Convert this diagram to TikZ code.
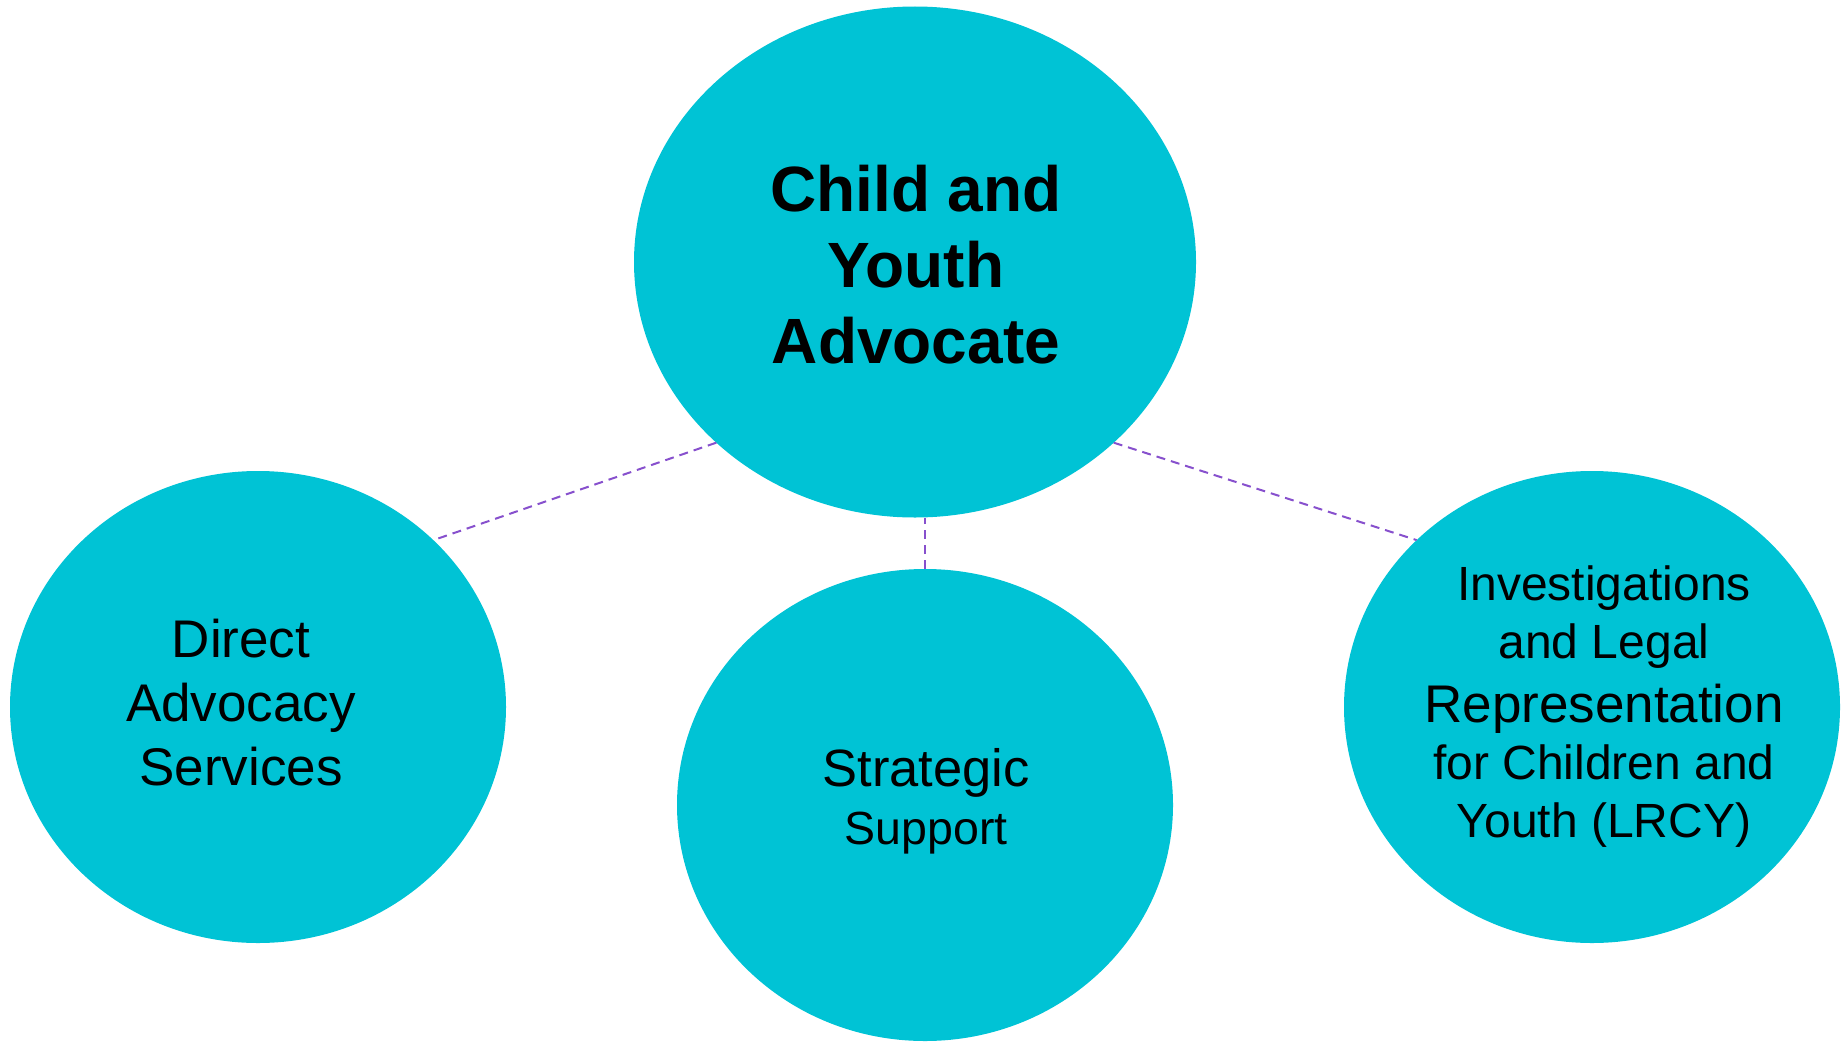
\documentclass[tikz,border=0pt]{standalone}
\usepackage{fontspec}
\setmainfont{Liberation Sans}
\usetikzlibrary{shapes.geometric}
\definecolor{bubble}{RGB}{0,195,213}
\definecolor{linkc}{RGB}{135,80,205}
\newcommand{\fsA}{\fontsize{48}{58}\selectfont}
\newcommand{\fsB}{\fontsize{53}{64}\selectfont}
\begin{document}
\begin{tikzpicture}[x=1pt,y=-1pt,
  bigbub/.style={ellipse,fill=bubble,draw=none,inner sep=0pt,outer sep=0pt,minimum width=562pt,minimum height=511pt},
  bub/.style={ellipse,fill=bubble,draw=none,inner sep=0pt,outer sep=0pt,minimum width=496pt,minimum height=472pt},
  link/.style={draw=linkc,line width=2pt,dash pattern=on 9pt off 6pt},
  ttl/.style={align=center,inner sep=0pt,font=\bfseries\fontsize{64}{76}\selectfont},
  lbl/.style={align=center,inner sep=0pt,font=\fontsize{53}{64}\selectfont},
  lbls/.style={align=center,inner sep=0pt,font=\fontsize{48}{58}\selectfont}]
\useasboundingbox (0,0) rectangle (1841,1041);
\node[bigbub] (top) at (915,262) {};
\node[bub] (left) at (258,707) {};
\node[bub] (mid) at (925,805) {};
\node[bub] (right) at (1592,707) {};
\draw[link] (top.south west) -- (left.north east);
\draw[link] (top.south east) -- (right.north west);
\draw[link] (mid.north) -- (mid.north |- top.south);
\node[ttl] (toptext) at (916,265) {Child and\\Youth\\Advocate};
\node[lbl] (lefttext) at (241,703) {Direct\\Advocacy\\Services};
\node[lbls] (midtext) at (926,801.5) {{\fontsize{52.5}{60}\selectfont Strategic}\\{\fontsize{46.5}{60}\selectfont Support}};
\node[lbls] (righttext) at (1604,707) {Investigations\\and Legal\\[6pt]{\fsB Representation}\\[-1pt]for Children and\\Youth (LRCY)};
\end{tikzpicture}
\end{document}
